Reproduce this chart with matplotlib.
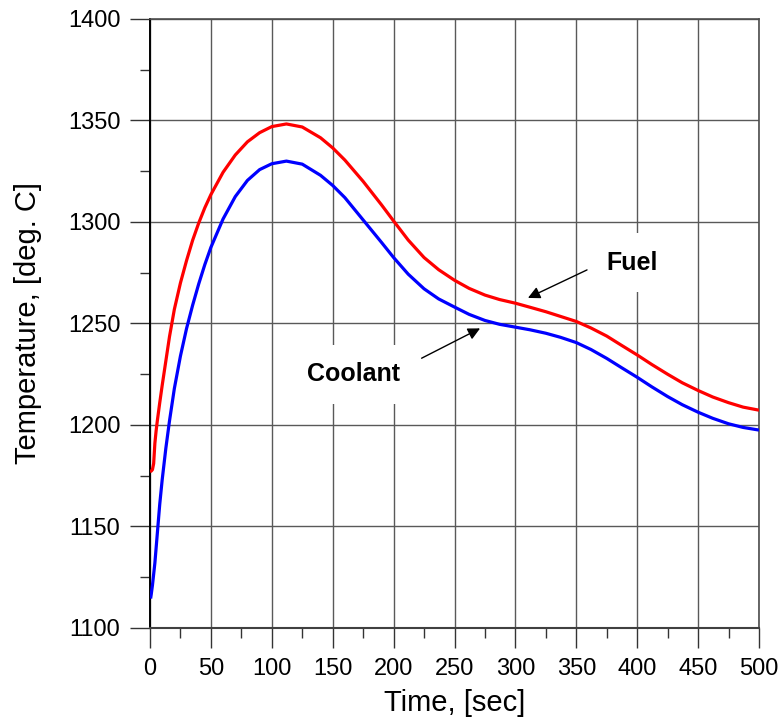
import matplotlib
matplotlib.use("Agg")
import matplotlib.pyplot as plt
from matplotlib.ticker import MultipleLocator

plt.rcParams['font.family'] = ['Liberation Sans', 'DejaVu Sans']

# Transient temperature histories
time_fuel = [0, 1, 2, 3, 4, 5, 6, 8, 10, 13, 16, 20, 25, 30, 35, 40, 45, 50, 60, 70, 80,
             90, 100, 112, 125, 140, 150, 160, 175, 190, 200, 212, 225, 237, 250, 262,
             275, 287, 300, 312, 325, 337, 350, 362, 375, 387, 400, 412, 425, 437, 450,
             462, 475, 487, 500]
fuel_temp = [1177, 1177.3, 1178, 1181, 1191, 1197, 1202, 1211, 1219.5, 1231.5, 1243.5,
             1257, 1270, 1281, 1291, 1299.5, 1307, 1313.5, 1324.5, 1333, 1339.5, 1344,
             1347, 1348.3, 1346.8, 1341.5, 1336.5, 1330.5, 1320, 1308.5, 1300.5, 1291.1,
             1282.5, 1276.5, 1271.3, 1267.3, 1264, 1261.8, 1260, 1258, 1255.8, 1253.5,
             1251, 1247.8, 1243.8, 1239.3, 1234.5, 1229.8, 1225, 1220.8, 1217, 1213.8,
             1211, 1208.8, 1207.3]

time_cool = [0.5, 1, 2, 3, 4, 6, 8, 10, 13, 16, 20, 25, 30, 35, 40, 45, 50, 60, 70, 80,
             90, 100, 112, 125, 140, 150, 160, 175, 190, 200, 212, 225, 237, 250, 262,
             275, 287, 300, 312, 325, 337, 350, 362, 375, 387, 400, 412, 425, 437, 450,
             462, 475, 487, 500]
coolant_temp = [1114.5, 1116.5, 1121, 1126.5, 1132, 1146.5, 1161, 1173, 1188.5, 1202,
                1218, 1234, 1247.5, 1259, 1269.5, 1279, 1287.5, 1301.5, 1312.5, 1320.5,
                1325.8, 1328.7, 1330, 1328.5, 1323, 1318, 1312, 1301, 1290, 1282.5,
                1274.3, 1267.1, 1262.1, 1258.1, 1254.5, 1251.5, 1249.6, 1248.2, 1246.9,
                1245.2, 1243.2, 1240.6, 1237.2, 1232.8, 1228.3, 1223.5, 1218.8, 1214,
                1210, 1206.3, 1203.3, 1200.6, 1198.8, 1197.5]

fig = plt.figure(figsize=(7.79, 7.22), dpi=100)
ax = fig.add_axes([150 / 779, 94 / 722, 609 / 779, 609 / 722])

ax.plot(time_fuel, fuel_temp, color='#ff0000', lw=2.3, zorder=4,
        solid_joinstyle='round', solid_capstyle='butt')
ax.plot(time_cool, coolant_temp, color='#0000ff', lw=2.3, zorder=4,
        solid_joinstyle='round', solid_capstyle='butt')

ax.set_xlim(0, 500)
ax.set_ylim(1100, 1400)
ax.xaxis.set_major_locator(MultipleLocator(50))
ax.xaxis.set_minor_locator(MultipleLocator(25))
ax.yaxis.set_major_locator(MultipleLocator(50))
ax.yaxis.set_minor_locator(MultipleLocator(25))

ax.tick_params(which='major', direction='out', length=14.4, width=1.0, color='0.2',
               labelsize=17, pad=7)
ax.tick_params(which='minor', direction='out', length=7.2, width=1.0, color='0.2')

ax.grid(True, which='major', color='0.35', lw=1.0, zorder=1)
ax.set_axisbelow(True)

for side in ('top', 'right'):
    ax.spines[side].set_color('0.3')
    ax.spines[side].set_linewidth(1.2)
ax.spines['left'].set_color('black')
ax.spines['left'].set_linewidth(1.4)
ax.spines['bottom'].set_color('0.25')
ax.spines['bottom'].set_linewidth(1.5)

ax.set_xlabel('Time, [sec]', fontsize=21, va='center')
ax.set_ylabel('Temperature, [deg. C]', fontsize=21, va='center')
ax.xaxis.set_label_coords(0.5, -0.123)
ax.yaxis.set_label_coords(-0.201, 0.5)

box = dict(boxstyle='square,pad=0.7', fc='white', ec='none')
arrow = dict(arrowstyle='-|>', color='black', lw=1.0, mutation_scale=18,
             shrinkA=0, shrinkB=0)

ax.text(396, 1280, 'Fuel', fontsize=18, fontweight='bold', ha='center', va='center',
        bbox=box, zorder=3)
ax.annotate('', xy=(310.3, 1262.6), xytext=(358.8, 1276.4), arrowprops=arrow, zorder=5)

ax.text(166.7, 1225.1, 'Coolant', fontsize=18, fontweight='bold', ha='center',
        va='center', bbox=box, zorder=3)
ax.annotate('', xy=(271, 1247.6), xytext=(223, 1232.9), arrowprops=arrow, zorder=5)

fig.savefig('out.png', dpi=100)
